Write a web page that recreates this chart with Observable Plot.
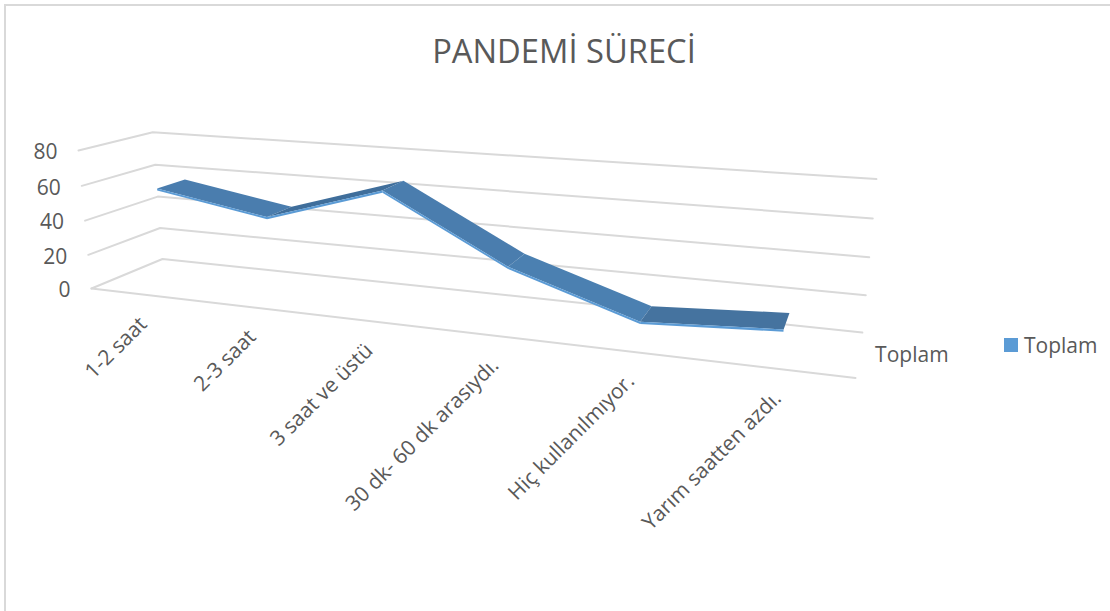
<!DOCTYPE html>
<html><head><meta charset="utf-8">
<script src="https://cdn.jsdelivr.net/npm/d3@7"></script>
<script src="https://cdn.jsdelivr.net/npm/@observablehq/plot@0.6"></script>
<style>
html,body{margin:0;padding:0;background:#fff;}
#frame{position:relative;width:1110px;height:611px;overflow:hidden;font-family:"Open Sans",sans-serif;color:#595959;}
#frame .edge{position:absolute;background:#d9d9d9;}
#title{position:absolute;left:0;top:0;width:1128px;height:80px;line-height:102px;text-align:center;font-size:32.7px;white-space:nowrap;}
#chart{position:absolute;left:0;top:80px;}
#chart svg{display:block;}
#legend{position:absolute;left:1004px;top:333px;font-size:21px;line-height:24px;display:flex;align-items:center;gap:6px;}
#legend i{display:inline-block;width:14px;height:14px;background:#5b9bd5;}
</style></head>
<body>
<div id="frame">
  <div class="edge" style="left:4px;top:4px;width:2px;height:607px"></div>
  <div class="edge" style="left:4px;top:4px;width:1106px;height:2px"></div>
  <div id="title">PANDEMİ SÜRECİ</div>
  <div id="chart"></div>
  <div id="legend"><i></i><span>Toplam</span></div>
</div>
<script>
const categories = ["1-2 saat","2-3 saat","3 saat ve üstü","30 dk- 60 dk arasıydı.","Hiç kullanılmıyor.","Yarım saatten azdı."];
const values = [56,45,65,30,8,12];
const tickValues = [0,20,40,60,80];
const seriesName = "Toplam";
const segmentShades = ["#4a7dae","#3f6e9b","#4a7dae","#4b80b1","#45739f"];

// Perspective of the Excel 3-D box: u across categories, v height (0-1 of the axis), w depth
const axisMax = 80, ribbonFront = 0.3, ribbonBack = 0.7, ribbonTop = 0.7, ribbonBottom = -0.5;
function project(u, value, w) {
  const v = value / axisMax;
  const d = 1 - 0.2*u + 0.0936*w - 0.032*v;
  return [(91 + 593*u + 86.16*w - 15.5*v)/d, (288 + 14*u - 5.3*w - 142.8*v)/d];
}
const catU = i => (i + 0.5)/categories.length;

const gridRows = tickValues.flatMap(t => [
  {t, p: project(0,t,0)}, {t, p: project(0,t,1)}, {t, p: project(1,t,1)}
]);
const floorRows = [{p: project(0,0,0)}, {p: project(1,0,0)}];
const segRows = d3.range(values.length-1).flatMap(s => [s, s+1].map(i => ({
  seg: s, shade: segmentShades[s],
  front: project(catU(i), values[i]+ribbonTop, ribbonFront),
  back: project(catU(i), values[i]+ribbonTop, ribbonBack),
  lip: project(catU(i), values[i]+ribbonBottom, ribbonFront)
})));
const tickRows = tickValues.map(t => ({t, p: project(0,t,0)}));
const catRows = categories.map((c,i) => ({c, p: project(catU(i),0,0)}));
const seriesRows = [{c: seriesName, p: project(1,0,0.5)}];

const GREY = "#595959", FONT = "'Open Sans',sans-serif";
const chart = Plot.plot({
  width: 1110, height: 531, margin: 0,
  style: {background:"transparent", fontFamily: FONT},
  x: {type:"linear", domain:[0,1110], range:[0,1110], axis:null},
  y: {type:"linear", domain:[80,611], range:[0,531], axis:null},
  marks: [
    Plot.line(gridRows, {x:d=>d.p[0], y:d=>d.p[1], z:"t", stroke:"#d9d9d9", strokeWidth:2, curve:"linear"}),
    Plot.line(floorRows, {x:d=>d.p[0], y:d=>d.p[1], stroke:"#d9d9d9", strokeWidth:2}),
    Plot.area(segRows, {x1:d=>d.front[0], y1:d=>d.front[1], x2:d=>d.back[0], y2:d=>d.back[1], z:"seg", fill:"shade", curve:"linear"}),
    Plot.area(segRows, {x1:d=>d.lip[0], y1:d=>d.lip[1], x2:d=>d.front[0], y2:d=>d.front[1], z:"seg", fill:"#5b9bd5", curve:"linear"}),
    Plot.text(tickRows, {x:d=>d.p[0], y:d=>d.p[1], text:d=>String(d.t), textAnchor:"end", dx:-21, dy:2, fontSize:21, fill:GREY}),
    Plot.text(catRows, {x:d=>d.p[0], y:d=>d.p[1], text:"c", rotate:-45, textAnchor:"end", dx:0, dy:26, fontSize:21, fill:GREY}),
    Plot.text(seriesRows, {x:d=>d.p[0], y:d=>d.p[1], text:"c", textAnchor:"start", dx:16, dy:1, fontSize:21, fill:GREY})
  ]
});
document.getElementById("chart").appendChild(chart);
</script>
</body></html>
